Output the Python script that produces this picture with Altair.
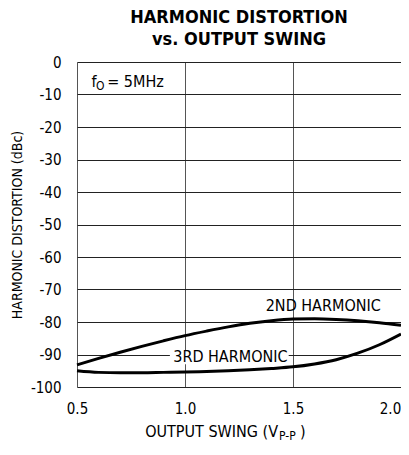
import altair as alt
import pandas as pd

swing = [0.5, 0.6, 0.7, 0.8, 0.9, 1.0, 1.1, 1.2, 1.3, 1.4, 1.5, 1.6, 1.7, 1.8, 1.9, 2.0]
h2 = [-93.2, -91.2, -89.3, -87.5, -85.8, -84.2, -82.8, -81.5, -80.4, -79.6, -79.1, -79.0, -79.2, -79.6, -80.2, -81.0]
h3 = [-95.0, -95.5, -95.6, -95.6, -95.5, -95.4, -95.2, -95.0, -94.7, -94.3, -93.8, -92.9, -91.6, -89.6, -87.0, -83.7]

x_ticks = [0.5, 1.0, 1.5, 2.0]
y_ticks = [-100, -90, -80, -70, -60, -50, -40, -30, -20, -10, 0]

label_text = ["2ND HARMONIC", "3RD HARMONIC"]
label_x = [1.64, 1.21]
label_y = [-75.0, -90.8]

FONT = "'DejaVu Sans Condensed', 'Liberation Sans Narrow', Roboto, sans-serif"

rows = []
for s, a, b in zip(swing, h2, h3):
    rows.append({"swing": s, "dist": a, "series": "2ND"})
    rows.append({"swing": s, "dist": b, "series": "3RD"})
df = pd.DataFrame(rows)

xs = alt.Scale(domain=[0.5, 2.0], nice=False, zero=False)
ys = alt.Scale(domain=[-100, 0], nice=False, zero=False)

xax = alt.Axis(values=x_ticks, format=".1f", title=None, grid=True, gridColor="#555",
               gridWidth=1, ticks=False, domain=False, labelPadding=14, labelFontSize=15,
               labelFont=FONT, labelColor="black", labelFlush=False, labelOverlap=False,
               labelOffset={"condition": {"test": "datum.value == 2", "value": -11}, "value": 0})
yax = alt.Axis(values=y_ticks, title="HARMONIC DISTORTION (dBc)", grid=True, gridColor="#222",
               gridWidth=1, ticks=False, domain=False, labelPadding=16, labelFontSize=15,
               labelFont=FONT, labelColor="black", titleFont=FONT, titleFontSize=14,
               titleFontWeight="normal", titleColor="black", titlePadding=6,
               labelOverlap=False, labelExpr="'' + datum.value")

def X(field):
    return alt.X(field, scale=xs, axis=xax)

def Y(field):
    return alt.Y(field, scale=ys, axis=yax)

base = alt.Chart(df)

bg = alt.Chart(pd.DataFrame({"x1": [0.93], "x2": [1.48], "y1": [-88.6], "y2": [-93.0]})).mark_rect(
    color="white").encode(x=X("x1:Q"), x2="x2:Q", y=Y("y1:Q"), y2="y2:Q")

lines = base.mark_line(color="black", strokeWidth=3, interpolate="monotone").encode(
    x=X("swing:Q"), y=Y("dist:Q"), detail="series:N")

labels = alt.Chart(pd.DataFrame({"t": label_text, "x": label_x, "y": label_y})).mark_text(
    font=FONT, fontSize=16, color="black", baseline="middle").encode(
    x=X("x:Q"), y=Y("y:Q"), text="t:N")

f_main = alt.Chart(pd.DataFrame({"t": ["f"], "x": [0.567], "y": [-7.7]})).mark_text(
    font=FONT, fontSize=16, color="black", align="left", baseline="alphabetic").encode(
    x=X("x:Q"), y=Y("y:Q"), text="t:N")
f_sub = alt.Chart(pd.DataFrame({"t": ["O"], "x": [0.588], "y": [-8.5]})).mark_text(
    font=FONT, fontSize=12, color="black", align="left", baseline="alphabetic").encode(
    x=X("x:Q"), y=Y("y:Q"), text="t:N")
f_rest = alt.Chart(pd.DataFrame({"t": ["= 5MHz"], "x": [0.64], "y": [-7.7]})).mark_text(
    font=FONT, fontSize=16, color="black", align="left", baseline="alphabetic").encode(
    x=X("x:Q"), y=Y("y:Q"), text="t:N")

xt_main = alt.Chart(pd.DataFrame({"t": ["OUTPUT SWING (V"]})).mark_text(
    font=FONT, fontSize=16, color="black", align="right", baseline="alphabetic").encode(
    x=alt.value(201), y=alt.value(375), text="t:N")
xt_sub = alt.Chart(pd.DataFrame({"t": ["P-P"]})).mark_text(
    font=FONT, fontSize=12, color="black", align="left", baseline="alphabetic").encode(
    x=alt.value(202), y=alt.value(378), text="t:N")
xt_end = alt.Chart(pd.DataFrame({"t": [")"]})).mark_text(
    font=FONT, fontSize=16, color="black", align="left", baseline="alphabetic").encode(
    x=alt.value(223), y=alt.value(375), text="t:N")

chart = alt.layer(bg, lines, labels, f_main, f_sub, f_rest, xt_main, xt_sub, xt_end).properties(
    width=324, height=325,
    title=alt.TitleParams(["HARMONIC DISTORTION", "vs. OUTPUT SWING"], font=FONT, fontSize=18,
                          fontWeight="bold", color="black", anchor="middle", lineHeight=22, offset=6),
    autosize=alt.AutoSizeParams(type="none"),
    padding={"left": 69, "top": 54, "right": 0, "bottom": 56},
).configure_view(stroke="black", strokeWidth=3).configure(background="white")

chart.save("out.html", embed_options={"renderer": "svg", "actions": False})
